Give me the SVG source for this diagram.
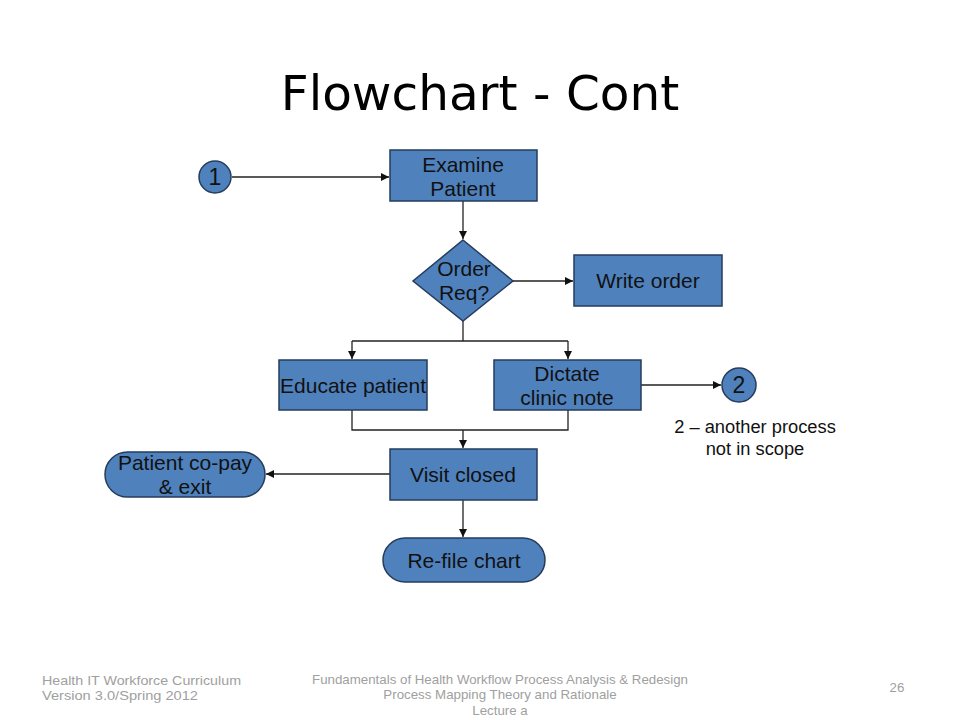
<svg xmlns="http://www.w3.org/2000/svg" width="960" height="720" viewBox="0 0 960 720">
<defs>
<style>
.n{fill:#4f81bd;stroke:#253c5c;stroke-width:1.5}
.t{font-family:"Liberation Sans",Arial,sans-serif;font-size:21px;fill:#111;text-anchor:middle}
.d{font-size:23px}
.s{font-size:18.3px}
.c{fill:none;stroke:#222;stroke-width:1.3}
.f{font-family:"Liberation Sans",Arial,sans-serif;font-size:13.3px;fill:#a0a0a0}
</style>
<marker id="a" viewBox="0 0 10 10" refX="10" refY="5" markerWidth="8" markerHeight="8" markerUnits="userSpaceOnUse" orient="auto"><path d="M0,0L10,5L0,10z" fill="#111"/></marker>
</defs>
<rect width="960" height="720" fill="#fff"/>
<text x="480" y="110" font-family="DejaVu Sans,Verdana,sans-serif" font-size="48.5" fill="#000" text-anchor="middle">Flowchart - Cont</text>
<g id="connectors">
<path class="c" d="M232,177H389" marker-end="url(#a)"/>
<path class="c" d="M463,201V239" marker-end="url(#a)"/>
<path class="c" d="M513,281H573" marker-end="url(#a)"/>
<path class="c" d="M463,321V341"/>
<path class="c" d="M352,341H568"/>
<path class="c" d="M352,341V359" marker-end="url(#a)"/>
<path class="c" d="M568,341V359" marker-end="url(#a)"/>
<path class="c" d="M641,385H721" marker-end="url(#a)"/>
<path class="c" d="M352,410V430H568V410"/>
<path class="c" d="M463,430V448" marker-end="url(#a)"/>
<path class="c" d="M390,474H266" marker-end="url(#a)"/>
<path class="c" d="M463,500V537" marker-end="url(#a)"/>
</g>
<g id="c1"><circle class="n" cx="215" cy="177" r="16"/><text class="t d" x="215" y="185">1</text></g>
<g id="examine"><rect class="n" x="390" y="150" width="147" height="51"/><text class="t" x="463" y="172">Examine</text><text class="t" x="463" y="196">Patient</text></g>
<g id="order"><path class="n" d="M463,240L513,281L463,321L413,281z"/><text class="t" x="464" y="276">Order</text><text class="t" x="464" y="300">Req?</text></g>
<g id="write"><rect class="n" x="574" y="255" width="148" height="51"/><text class="t" x="648" y="288">Write order</text></g>
<g id="educate"><rect class="n" x="279" y="360" width="148" height="50"/><text class="t" x="353" y="393">Educate patient</text></g>
<g id="dictate"><rect class="n" x="494" y="360" width="147" height="50"/><text class="t" x="567" y="381">Dictate</text><text class="t" x="567" y="405">clinic note</text></g>
<g id="c2"><circle class="n" cx="739" cy="385" r="17"/><text class="t d" x="739" y="393">2</text></g>
<g id="note"><text class="t s" x="755" y="433">2 – another process</text><text class="t s" x="755" y="455">not in scope</text></g>
<g id="visit"><rect class="n" x="390" y="449" width="147" height="51"/><text class="t" x="463" y="482">Visit closed</text></g>
<g id="copay"><rect class="n" x="105" y="452" width="160" height="45" rx="22.5"/><text class="t" x="185" y="470">Patient co-pay</text><text class="t" x="185" y="494">&amp; exit</text></g>
<g id="refile"><rect class="n" x="383" y="538" width="162" height="44" rx="22"/><text class="t" x="464" y="568">Re-file chart</text></g>
<g id="footer">
<text class="f" x="42" y="685" textLength="199" lengthAdjust="spacingAndGlyphs">Health IT Workforce Curriculum</text>
<text class="f" x="42" y="700" textLength="156" lengthAdjust="spacingAndGlyphs">Version 3.0/Spring 2012</text>
<text class="f" x="500" y="684" text-anchor="middle">Fundamentals of Health Workflow Process Analysis &amp; Redesign</text>
<text class="f" x="500" y="699" text-anchor="middle">Process Mapping Theory and Rationale</text>
<text class="f" x="500" y="715" text-anchor="middle">Lecture a</text>
<text class="f" x="897" y="692" text-anchor="middle">26</text>
</g>
</svg>
